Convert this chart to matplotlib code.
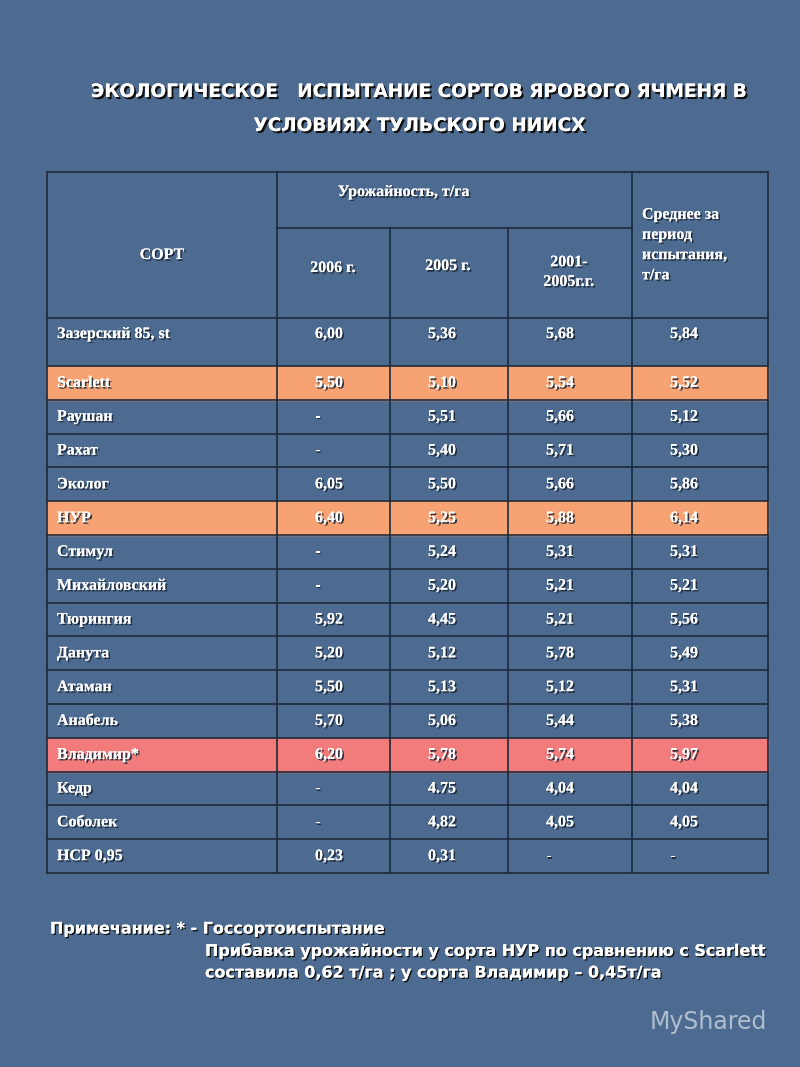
"""Table slide: ecological trial of spring barley varieties."""

import matplotlib
matplotlib.use("Agg")
import matplotlib.pyplot as plt
import matplotlib.patheffects as pe

varieties = ["Зазерский 85, st", "Scarlett", "Раушан", "Рахат", "Эколог", "НУР", "Стимул",
             "Михайловский", "Тюрингия", "Данута", "Атаман", "Анабель", "Владимир*", "Кедр",
             "Соболек", "НСР 0,95"]
yield_2006 = ["6,00", "5,50", "-", "-", "6,05", "6,40", "-", "-", "5,92", "5,20", "5,50", "5,70",
              "6,20", "-", "-", "0,23"]
yield_2005 = ["5,36", "5,10", "5,51", "5,40", "5,50", "5,25", "5,24", "5,20", "4,45", "5,12", "5,13",
              "5,06", "5,78", "4.75", "4,82", "0,31"]
yield_2001_05 = ["5,68", "5,54", "5,66", "5,71", "5,66", "5,88", "5,31", "5,21", "5,21", "5,78", "5,12",
                 "5,44", "5,74", "4,04", "4,05", "-"]
mean_period = ["5,84", "5,52", "5,12", "5,30", "5,86", "6,14", "5,31", "5,21", "5,56", "5,49", "5,31",
               "5,38", "5,97", "4,04", "4,05", "-"]
highlight = {"Scarlett": "#f7a272", "НУР": "#f7a272", "Владимир*": "#f27b7b"}

BG = "#4d6b90"
LINE = "#1e2a3a"
shadow = [pe.withSimplePatchShadow(offset=(1.2, -1.2), shadow_rgbFace="#1a2636", alpha=0.9), pe.Normal()]

fig = plt.figure(figsize=(8, 10.67), dpi=100)
fig.patch.set_facecolor(BG)
ax = fig.add_axes([0, 0, 1, 1])
ax.set_xlim(0, 800)
ax.set_ylim(1067, 0)
ax.axis("off")
ax.set_facecolor(BG)

title_kw = dict(color="white", fontsize=13.3, fontweight="bold", ha="center", va="center",
                family="DejaVu Sans", path_effects=[pe.withSimplePatchShadow(offset=(1.5, -1.5), shadow_rgbFace="#111", alpha=1), pe.Normal()])
ax.text(420, 92, "ЭКОЛОГИЧЕСКОЕ   ИСПЫТАНИЕ СОРТОВ ЯРОВОГО ЯЧМЕНЯ В", **title_kw)
ax.text(420, 126, "УСЛОВИЯХ ТУЛЬСКОГО НИИСХ", **title_kw)

cols = [47, 277, 390, 508, 632, 768]
top, mid, head_bot = 172, 228, 318
first_bot = 366
step = 33.8
row_edges = [head_bot, first_bot] + [first_bot + step * (i + 1) for i in range(len(varieties) - 1)]

cell_kw = dict(color="white", fontsize=11.5, fontweight="bold", family="Liberation Serif", path_effects=shadow)

for i, name in enumerate(varieties):
    y0, y1 = row_edges[i], row_edges[i + 1]
    if name in highlight:
        ax.fill_between([cols[0], cols[-1]], y0, y1, color=highlight[name], zorder=1)
    yc = (y0 + y1) / 2 if i else y0 + 16
    ax.text(cols[0] + 10, yc, name, va="center", ha="left", **cell_kw)
    for j, vals in enumerate([yield_2006, yield_2005, yield_2001_05, mean_period]):
        ax.text(cols[j + 1] + 38, yc, vals[i], va="center", ha="left", **cell_kw)

# grid lines
lw = 1.2
for y in [top] + row_edges:
    ax.plot([cols[0], cols[-1]], [y, y], color=LINE, lw=lw, zorder=3)
ax.plot([cols[1], cols[4]], [mid, mid], color=LINE, lw=lw, zorder=3)
for k, x in enumerate(cols):
    y_start = mid if k in (2, 3) else top
    ax.plot([x, x], [y_start, row_edges[-1]], color=LINE, lw=lw, zorder=3)

ax.text(162, 255, "СОРТ", ha="center", va="center", **cell_kw)
ax.text(404, 192, "Урожайность, т/га", ha="center", va="center", **cell_kw)
ax.text(333, 268, "2006 г.", ha="center", va="center", **cell_kw)
ax.text(448, 266, "2005 г.", ha="center", va="center", **cell_kw)
ax.text(569, 272, "2001-\n2005г.г.", ha="center", va="center", linespacing=1.3, **cell_kw)
ax.text(642, 245, "Среднее за\nпериод\nиспытания,\nт/га", ha="left", va="center", linespacing=1.35, **cell_kw)

note_kw = dict(color="white", fontsize=11.5, fontweight="bold", family="DejaVu Sans", ha="left", va="center",
               path_effects=[pe.withSimplePatchShadow(offset=(1, -1), shadow_rgbFace="#111", alpha=1), pe.Normal()])
ax.text(50, 929, "Примечание: * - Госсортоиспытание", **note_kw)
ax.text(205, 951, "Прибавка урожайности у сорта НУР по сравнению с Scarlett", **note_kw)
ax.text(205, 973, "составила 0,62 т/га ; у сорта Владимир – 0,45т/га", **note_kw)

ax.text(650, 1022, "MyShared", color="#c8d4e0", fontsize=17, ha="left", va="center", family="DejaVu Sans", alpha=0.8)

fig.savefig("out.png", dpi=100, facecolor=BG)
